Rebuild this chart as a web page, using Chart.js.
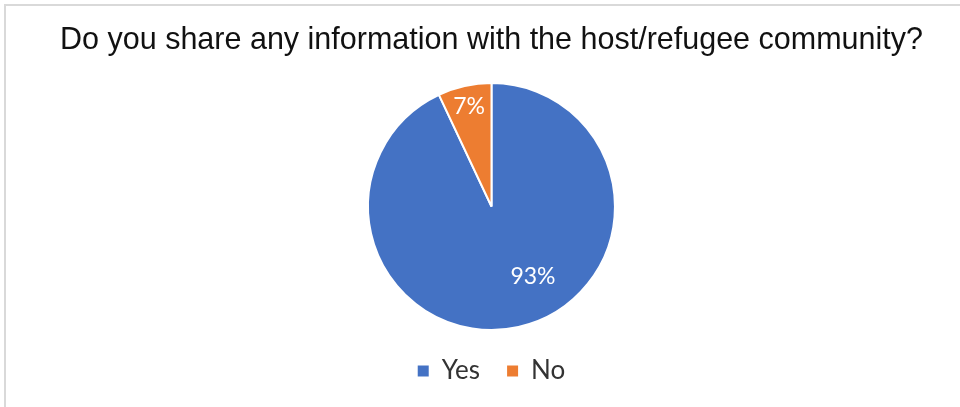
<!DOCTYPE html>
<html>
<head>
<meta charset="utf-8">
<script src="https://cdn.jsdelivr.net/npm/chart.js@4"></script>
<style>
  html, body { margin: 0; padding: 0; background: #fff; }
  #wrap {
    position: relative;
    width: 960px;
    height: 407px;
    overflow: hidden;
  }
  #frame {
    position: absolute;
    left: 4px; top: 4px; right: -2px; bottom: -2px;
    border-top: 2px solid #d9d9d9;
    border-left: 2px solid #d9d9d9;
    pointer-events: none;
  }
  canvas { position: absolute; left: 0; top: 0; }
</style>
</head>
<body>
<div id="wrap">
  <canvas id="pie" width="960" height="407"></canvas>
  <div id="frame"></div>
</div>
<script>
// ---- datos ----
const TITLE = "Do you share any information with the host/refugee community?";
const LABELS = ["Yes", "No"];
const VALUES = [93, 7];
const COLORS = ["#4472C4", "#ED7D31"];

// posición de cada etiqueta: fracción del radio y giro (grados) respecto al centro del sector
const LABEL_RADIUS = [0.66, 0.83];
const LABEL_TURN = [-18, 0];

// etiquetas de porcentaje dentro de cada sector
const pctLabels = {
    id: "pctLabels",
    afterDatasetsDraw(chart) {
        const ctx = chart.ctx;
        const meta = chart.getDatasetMeta(0);
        const total = VALUES.reduce((a, b) => a + b, 0);
        ctx.save();
        ctx.fillStyle = "#fff";
        ctx.font = "23px Lato, 'Open Sans', sans-serif";
        ctx.textAlign = "center";
        ctx.textBaseline = "middle";
        meta.data.forEach((arc, i) => {
            const p = arc.getProps(["x", "y", "startAngle", "endAngle", "outerRadius"], true);
            const ang = (p.startAngle + p.endAngle) / 2 + LABEL_TURN[i] * Math.PI / 180;
            const r = p.outerRadius * LABEL_RADIUS[i];
            const pct = Math.round(VALUES[i] / total * 100) + "%";
            ctx.fillText(pct, p.x + Math.cos(ang) * r, p.y + Math.sin(ang) * r);
        });
        ctx.restore();
    }
};

// cuadritos de la leyenda sin el borde blanco de los sectores
function legendLabels(chart) {
    const items = Chart.controllers.pie.overrides.plugins.legend.labels.generateLabels(chart);
    items.forEach(it => { it.lineWidth = 0; });
    return items;
}

new Chart(document.getElementById("pie"), {
    type: "pie",
    data: {
        labels: LABELS,
        datasets: [{
            data: VALUES,
            backgroundColor: COLORS,
            borderColor: "#fff",
            borderWidth: 2
        }]
    },
    options: {
        responsive: false,
        animation: false,
        layout: { padding: { top: 0, bottom: 13, left: 23 } },
        plugins: {
            title: {
                display: true,
                text: TITLE,
                color: "#111",
                font: { family: "'Liberation Sans', Arial, sans-serif", size: 30.5, weight: "normal" },
                padding: { top: 22, bottom: 23.5 }
            },
            legend: {
                position: "bottom",
                labels: {
                    color: "#333",
                    font: { family: "Lato, 'Open Sans', sans-serif", size: 26 },
                    boxWidth: 11,
                    boxHeight: 11,
                    padding: 27,
                    generateLabels: legendLabels
                }
            },
            tooltip: { enabled: false }
        }
    },
    plugins: [pctLabels]
});
</script>
</body>
</html>
